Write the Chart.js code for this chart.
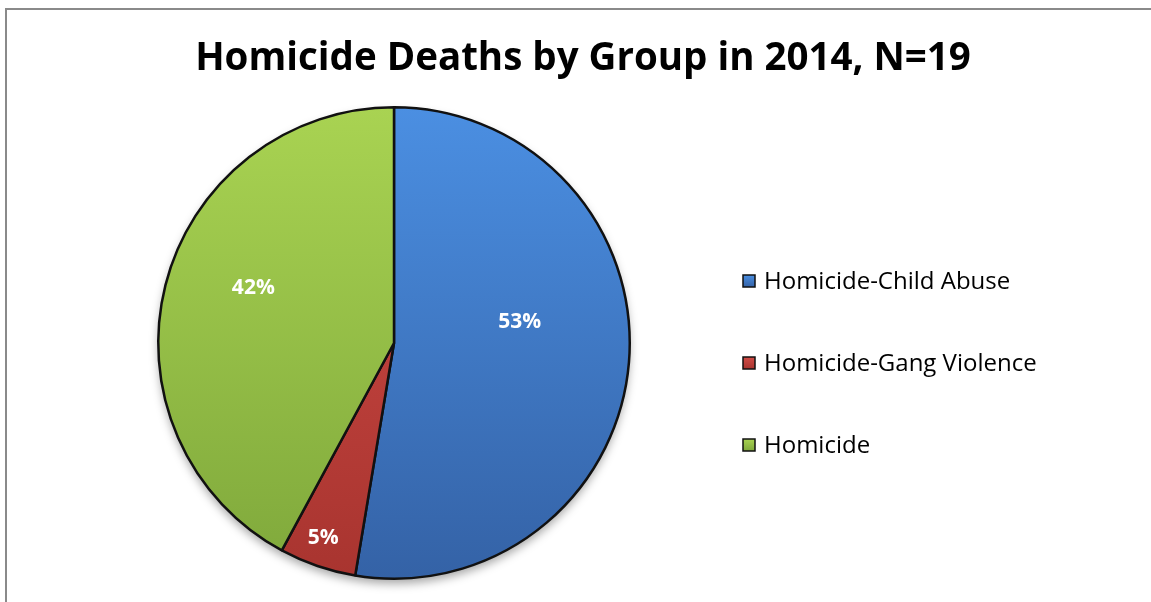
<!DOCTYPE html>
<html><head><meta charset="utf-8">
<script src="https://cdn.jsdelivr.net/npm/chart.js@4"></script>
<style>html,body{margin:0;padding:0;background:#fff}#wrap{width:1151px;height:602px}</style>
</head><body><div id="wrap"><canvas id="c" width="1151" height="602"></canvas></div>
<script>
const titleText = 'Homicide Deaths by Group in 2014, N=19';
const categories = ['Homicide-Child Abuse', 'Homicide-Gang Violence', 'Homicide'];
const counts = [10, 1, 8];
const percentLabels = ['53%', '5%', '42%'];

const topColors = ['#4b8fe2', '#d24c47', '#a9d352'];
const bottomColors = ['#3462a6', '#a8342f', '#7fa83b'];
const labelRadiusFrac = [0.54, 0.88, 0.64];
const labelAngleShift = [-14, 1, 7];

function grad(ctx, area, i) {
  const g = ctx.createLinearGradient(0, area.top, 0, area.bottom);
  g.addColorStop(0, topColors[i]);
  g.addColorStop(1, bottomColors[i]);
  return g;
}

const framePlugin = {
  id: 'frame',
  beforeDraw(chart) {
    const ctx = chart.ctx;
    ctx.save();
    ctx.fillStyle = '#fff';
    ctx.fillRect(0, 0, chart.width, chart.height);
    ctx.strokeStyle = '#8a8a8a';
    ctx.lineWidth = 2;
    ctx.beginPath();
    ctx.moveTo(6, chart.height + 2);
    ctx.lineTo(6, 9);
    ctx.lineTo(chart.width + 2, 9);
    ctx.stroke();
    // title
    ctx.fillStyle = '#000';
    ctx.font = 'bold 38.5px "Open Sans"';
    ctx.textAlign = 'center';
    ctx.textBaseline = 'alphabetic';
    ctx.fillText(titleText, 583, 70);
    ctx.restore();
  },
  beforeDatasetsDraw(chart) {
    const ctx = chart.ctx;
    const arc = chart.getDatasetMeta(0).data[0];
    ctx.save();
    ctx.shadowColor = 'rgba(0,0,0,0.35)';
    ctx.shadowBlur = 10;
    ctx.shadowOffsetY = 5;
    ctx.fillStyle = '#fff';
    ctx.beginPath();
    ctx.arc(arc.x, arc.y, arc.outerRadius, 0, Math.PI * 2);
    ctx.fill();
    ctx.restore();
  },
  afterDraw(chart) {
    const ctx = chart.ctx;
    const meta = chart.getDatasetMeta(0);
    ctx.save();
    ctx.fillStyle = '#fff';
    ctx.font = 'bold 21px "Open Sans"';
    ctx.textAlign = 'center';
    ctx.textBaseline = 'middle';
    meta.data.forEach((a, i) => {
      const mid = (a.startAngle + a.endAngle) / 2 + labelAngleShift[i] * Math.PI / 180;
      const r = a.outerRadius * labelRadiusFrac[i];
      ctx.fillText(percentLabels[i], a.x + Math.cos(mid) * r, a.y + Math.sin(mid) * r);
    });
    // legend
    ctx.textAlign = 'left';
    ctx.font = '24px "Open Sans"';
    categories.forEach((c, i) => {
      const y = 281 + i * 82;
      const g = ctx.createLinearGradient(0, y - 6, 0, y + 6);
      g.addColorStop(0, topColors[i]);
      g.addColorStop(1, bottomColors[i]);
      ctx.fillStyle = g;
      ctx.fillRect(743, y - 6, 12, 12);
      ctx.strokeStyle = '#111';
      ctx.lineWidth = 1.5;
      ctx.strokeRect(743, y - 6, 12, 12);
      ctx.fillStyle = '#000';
      ctx.fillText(c, 764, y + 1);
    });
    ctx.restore();
  }
};

new Chart(document.getElementById('c'), {
  type: 'pie',
  data: {
    labels: categories,
    datasets: [{
      data: counts,
      backgroundColor: (ctx) => {
        const area = ctx.chart.chartArea;
        if (!area) return topColors[ctx.dataIndex];
        return grad(ctx.chart.ctx, area, ctx.dataIndex);
      },
      borderColor: '#111',
      borderWidth: 2.5,
      hoverOffset: 0
    }]
  },
  options: {
    responsive: false,
    animation: false,
    layout: { padding: { left: 157, right: 520, top: 106, bottom: 22 } },
    plugins: { legend: { display: false }, title: { display: false }, tooltip: { enabled: false } },
    events: []
  },
  plugins: [framePlugin]
});
</script></body></html>
